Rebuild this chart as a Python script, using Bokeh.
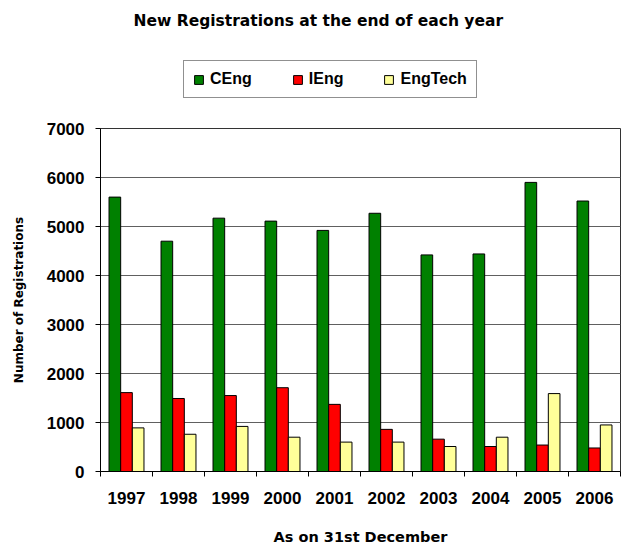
from bokeh.plotting import figure
from bokeh.models import Range1d, FixedTicker, Legend, LegendItem, Label
from bokeh.layouts import column
from bokeh.embed import file_html
from bokeh.resources import INLINE
import numpy as np

years = ["1997", "1998", "1999", "2000", "2001", "2002", "2003", "2004", "2005", "2006"]
ceng = [5600, 4700, 5170, 5110, 4920, 5270, 4420, 4440, 5900, 5520]
ieng = [1610, 1490, 1550, 1710, 1370, 860, 660, 510, 540, 480]
engtech = [890, 760, 920, 700, 600, 600, 510, 700, 1590, 950]
series_names = ["CEng", "IEng", "EngTech"]
series_colors = ["#008000", "#ff0000", "#ffff99"]
y_ticks = [0, 1000, 2000, 3000, 4000, 5000, 6000, 7000]

title_text = "New Registrations at the end of each year"
x_label = "As on 31st December"
y_label = "Number of Registrations"

LABEL_FONT = "DejaVu Sans"
TICK_FONT = "Liberation Sans"

n = len(years)
centers = np.arange(n) + 0.5
bar_w = 0.224
series_values = [ceng, ieng, engtech]

# ---------- header (title + legend); its frame is aligned with the chart frame ----------
TOP_H = 110
top = figure(width=626, height=TOP_H, output_backend="svg", toolbar_location=None,
             x_range=Range1d(0, n), y_range=Range1d(0, max(y_ticks)),
             x_axis_type=None, y_axis_type=None,
             min_border_left=0, min_border_right=0,
             min_border_top=0, min_border_bottom=0)
top.title = None
top.outline_line_color = None
top.xgrid.grid_line_color = None
top.ygrid.grid_line_color = None
top.background_fill_color = "white"
top.border_fill_color = "white"

# hidden copies of the series, used only to draw the legend swatches
legend_src = []
for k, (vals, col) in enumerate(zip(series_values, series_colors)):
    r = top.vbar(x=centers + (k - 1) * bar_w, top=vals, width=bar_w, bottom=0,
                 fill_color=col, line_color="black", line_width=1)
    r.visible = False
    legend_src.append(r)

legend = Legend(items=[LegendItem(label=nm, renderers=[r]) for nm, r in zip(series_names, legend_src)],
                orientation="horizontal", location=(83, TOP_H - 98))
legend.glyph_width = 11
legend.glyph_height = 11
legend.label_standoff = 6
legend.spacing = 40
legend.padding = 9
legend.label_text_font = TICK_FONT
legend.label_text_font_style = "bold"
legend.label_text_font_size = "16px"
legend.label_text_color = "black"
legend.border_line_color = "#222222"
legend.border_line_width = 1
legend.background_fill_color = "white"
legend.background_fill_alpha = 1
legend.inactive_fill_alpha = 0
legend.click_policy = "none"
top.add_layout(legend, "center")

title = Label(x=33, y=TOP_H - 20, x_units="screen", y_units="screen", text=title_text,
              text_align="left", text_baseline="middle",
              text_font=LABEL_FONT, text_font_style="bold", text_font_size="15.5px",
              text_color="black")
top.add_layout(title)

# ---------- main chart ----------
p = figure(width=626, height=547 - TOP_H, output_backend="svg", toolbar_location=None,
           x_range=Range1d(0, n), y_range=Range1d(0, max(y_ticks)),
           min_border_left=100, min_border_right=6, min_border_top=128 - TOP_H,
           min_border_bottom=75)
p.title = None
p.background_fill_color = "white"
p.border_fill_color = "white"
p.outline_line_color = "#333333"
p.outline_line_width = 1

for k, (vals, col) in enumerate(zip(series_values, series_colors)):
    p.vbar(x=centers + (k - 1) * bar_w, top=vals, width=bar_w, bottom=0,
           fill_color=col, line_color="black", line_width=1)

p.xgrid.grid_line_color = None
p.ygrid.grid_line_color = "#606060"
p.ygrid.grid_line_width = 1
p.ygrid.ticker = FixedTicker(ticks=y_ticks)

p.yaxis.ticker = FixedTicker(ticks=y_ticks)
p.yaxis.major_tick_out = 5
p.yaxis.major_tick_in = 0
p.yaxis.minor_tick_line_color = None
p.yaxis.axis_line_color = "black"
p.yaxis.major_tick_line_color = "black"
p.yaxis.major_label_text_font = TICK_FONT
p.yaxis.major_label_text_font_style = "bold"
p.yaxis.major_label_text_font_size = "17px"
p.yaxis.major_label_text_color = "black"
p.yaxis.major_label_standoff = 11
p.yaxis.axis_label = y_label
p.yaxis.axis_label_text_font = LABEL_FONT
p.yaxis.axis_label_text_font_style = "bold"
p.yaxis.axis_label_text_font_size = "12px"
p.yaxis.axis_label_text_color = "black"
p.yaxis.axis_label_standoff = 18

p.xaxis.ticker = FixedTicker(ticks=list(centers), minor_ticks=list(range(n + 1)))
p.xaxis.major_label_overrides = {float(c): y for c, y in zip(centers, years)}
p.xaxis.major_tick_line_color = None
p.xaxis.major_tick_out = 0
p.xaxis.major_tick_in = 0
p.xaxis.minor_tick_line_color = "black"
p.xaxis.minor_tick_out = 5
p.xaxis.minor_tick_in = 0
p.xaxis.axis_line_color = "black"
p.xaxis.major_label_text_font = TICK_FONT
p.xaxis.major_label_text_font_style = "bold"
p.xaxis.major_label_text_font_size = "17px"
p.xaxis.major_label_text_color = "black"
p.xaxis.major_label_standoff = 15
p.xaxis.axis_label = x_label
p.xaxis.axis_label_text_font = LABEL_FONT
p.xaxis.axis_label_text_font_style = "bold"
p.xaxis.axis_label_text_font_size = "14.5px"
p.xaxis.axis_label_text_color = "black"
p.xaxis.axis_label_standoff = 22

layout = column(top, p, spacing=0)
open("out.html", "w").write(file_html(layout, INLINE))
